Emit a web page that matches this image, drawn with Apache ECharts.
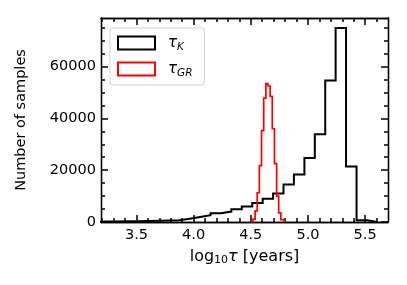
<!DOCTYPE html>
<html>
<head>
<meta charset="utf-8">
<script src="https://cdn.jsdelivr.net/npm/echarts@6/dist/echarts.min.js"></script>
<style>html,body{margin:0;padding:0;background:#fff}#c{width:407px;height:285px}</style>
</head>
<body>
<div id="c"></div>
<script>
// ---- data ----
const kEdges = [3.144,3.236,3.327,3.418,3.509,3.601,3.692,3.783,3.874,3.965,4.057,4.148,4.239,4.330,4.421,4.513,4.604,4.695,4.786,4.877,4.969,5.060,5.151,5.242,5.333,5.425,5.516,5.607];
const kCounts = [180,220,250,320,400,480,580,700,1290,1950,2610,3390,4020,4950,6000,7300,9000,11000,14500,18300,24700,33900,54600,74900,21400,700,50];
const grEdges = [4.500,4.519,4.538,4.556,4.575,4.594,4.613,4.632,4.650,4.669,4.688,4.707,4.726,4.744,4.763,4.782,4.801];
const grCounts = [200,1100,4300,11300,21800,35300,47800,53400,52500,48500,36000,22500,10000,3500,900,200];
const xMajor = [3.5,4.0,4.5,5.0,5.5];
const xMinor = [3.2,3.3,3.4,3.6,3.7,3.8,3.9,4.1,4.2,4.3,4.4,4.6,4.7,4.8,4.9,5.1,5.2,5.3,5.4,5.6];
const yMajor = [0,20000,40000,60000];
const yMinor = [5000,10000,15000,25000,30000,35000,45000,50000,55000,65000,70000,75000];
const xRange = [3.19,5.70];
const yRange = [0,78750];

function stepOutline(edges, counts){
  const pts = [[edges[0],0]];
  for(let i=0;i<counts.length;i++){
    pts.push([edges[i],counts[i]]);
    pts.push([edges[i+1],counts[i]]);
  }
  pts.push([edges[edges.length-1],0]);
  return pts;
}

const FONT = 'DejaVu Sans';
const chart = echarts.init(document.getElementById('c'), null, {renderer:'canvas'});

function xAx(grid, pos, ticks, len, labels){
  return {
    gridIndex:grid, type:'value', position:pos, min:xRange[0], max:xRange[1],
    axisLine:{show:true, onZero:false, lineStyle:{color:'#000', width:1.3}},
    axisTick:{show:true, inside:true, length:len, customValues:ticks, lineStyle:{color:'#000', width:1.5}},
    axisLabel:{show:labels, customValues:ticks, margin:6, color:'#000', fontFamily:FONT, fontSize:14.5,
      formatter:v=>v.toFixed(1)},
    splitLine:{show:false}
  };
}
function yAx(grid, pos, ticks, len, labels){
  return {
    gridIndex:grid, type:'value', position:pos, min:yRange[0], max:yRange[1],
    axisLine:{show:true, onZero:false, lineStyle:{color:'#000', width:1.3}},
    axisTick:{show:true, inside:true, length:len, customValues:ticks, lineStyle:{color:'#000', width:1.5}},
    axisLabel:{show:labels, customValues:ticks, margin:5, color:'#000', fontFamily:FONT, fontSize:14.5,
      formatter:v=>String(v)},
    splitLine:{show:false}
  };
}

const xMain = xAx(0, 'bottom', xMajor, 7, true);
xMain.name = '{a|log}{s|10}{t|τ}{a| [years]}';
xMain.nameLocation = 'middle';
xMain.nameGap = 26;
xMain.nameTextStyle = {color:'#000', fontFamily:FONT, rich:{
  a:{fontFamily:FONT, fontSize:16, color:'#000'},
  s:{fontFamily:FONT, fontSize:11, color:'#000', padding:[7,0,0,0]},
  t:{fontFamily:FONT, fontSize:16, fontStyle:'italic', color:'#000'}
}};
const yMain = yAx(0, 'left', yMajor, 7, true);
yMain.name = 'Number of samples';
yMain.nameLocation = 'middle';
yMain.nameGap = 72;
yMain.nameTextStyle = {color:'#000', fontFamily:FONT, fontSize:14.5};

const legendRich = {
  t:{fontFamily:FONT, fontSize:15, fontStyle:'italic', color:'#000'},
  s:{fontFamily:FONT, fontSize:10.5, fontStyle:'italic', color:'#000', padding:[8,0,0,0]}
};
const gridRect = {left:101, right:19, top:18, bottom:63, containLabel:false};
const tickHolder = (xi, yi) => ({type:'line', xAxisIndex:xi, yAxisIndex:yi, data:[], silent:true, showSymbol:false, legendHoverLink:false});

chart.setOption({
  animation:false,
  backgroundColor:'#fff',
  grid:[Object.assign({}, gridRect), Object.assign({}, gridRect)],
  xAxis:[xMain, xAx(0,'top', xMajor, 7, false), xAx(1,'bottom', xMinor, 4, false), xAx(1,'top', xMinor, 4, false)],
  yAxis:[yMain, yAx(0,'right', yMajor, 7, false), yAx(1,'left', yMinor, 4, false), yAx(1,'right', yMinor, 4, false)],
  legend:{
    left:110, top:28, orient:'vertical',
    backgroundColor:'#fff', borderColor:'#d0d0d0', borderWidth:1, borderRadius:3,
    padding:[5,12,6,7], itemGap:6, itemWidth:37, itemHeight:13,
    textStyle:{fontFamily:FONT, fontSize:15, color:'#000', lineHeight:20, padding:[0,0,0,8], rich:legendRich},
    formatter:function(name){ return name==='tauK' ? '{t|τ}{s|K}' : '{t|τ}{s|GR}'; },
    data:[
      {name:'tauK', icon:'rect', itemStyle:{color:'rgba(0,0,0,0)', borderColor:'#000', borderWidth:2}},
      {name:'tauGR', icon:'rect', itemStyle:{color:'rgba(0,0,0,0)', borderColor:'#ff0000', borderWidth:2}}
    ]
  },
  series:[
    {name:'tauK', type:'line', xAxisIndex:0, yAxisIndex:0, data:stepOutline(kEdges,kCounts),
      showSymbol:false, symbol:'none', lineStyle:{color:'#000', width:2, join:'miter'}, itemStyle:{color:'#000'}, z:2},
    {name:'tauGR', type:'line', xAxisIndex:0, yAxisIndex:0, data:stepOutline(grEdges,grCounts),
      showSymbol:false, symbol:'none', lineStyle:{color:'#ff0000', width:1.7, join:'miter'}, itemStyle:{color:'#ff0000'}, z:3},
    tickHolder(1,1), tickHolder(2,2), tickHolder(3,3)
  ]
});
</script>
</body>
</html>
